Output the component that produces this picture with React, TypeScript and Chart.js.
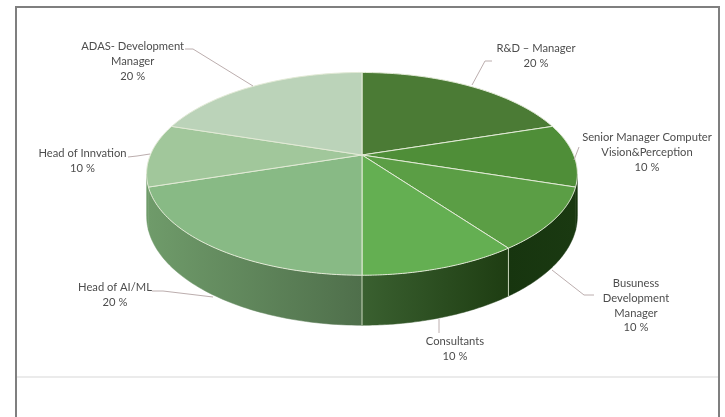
import React, { useEffect, useRef } from "react";
import { Chart, registerables } from "chart.js";

Chart.register(...registerables);

const categories = [
  "R&D – Manager",
  "Senior Manager Computer Vision&Perception",
  "Busuness Development Manager",
  "Consultants",
  "Head of AI/ML",
  "Head of Innvation",
  "ADAS- Development Manager",
];
const shares = [20, 10, 10, 10, 20, 10, 20];
const topColors = ["#4b7b35", "#4f8e38", "#5b9e45", "#64af52", "#88ba85", "#a1c79b", "#bbd3b9"];
const wallFrom = ["#17350f", "#17350f", "#17350f", "#3a6030", "#6f9b6a", "#6f9b6a", "#6f9b6a"];
const wallTo = ["#17350f", "#17350f", "#1a3911", "#1e3d12", "#4f6f4b", "#6f9b6a", "#6f9b6a"];

// Label placement: line list, centre x, first line's middle y, leader polyline.
type Callout = { lines: string[]; x: number; y: number; leader: [number, number][] };
const callouts: Callout[] = [
  { lines: ["R&D – Manager", "20 %"], x: 536, y: 48, leader: [[472, 85], [485, 61], [492, 61]] },
  { lines: ["Senior Manager Computer", "Vision&Perception", "10 %"], x: 647, y: 137, leader: [[579, 147], [574, 160]] },
  { lines: ["Busuness", "Development", "Manager", "10 %"], x: 636, y: 283, leader: [[552, 270], [584, 295], [594, 295]] },
  { lines: ["Consultants", "10 %"], x: 455, y: 341, leader: [[439, 319], [439, 333]] },
  { lines: ["Head of AI/ML", "20 %"], x: 115, y: 287, leader: [[152, 291], [163, 291], [213, 297]] },
  { lines: ["Head of Innvation", "10 %"], x: 82.5, y: 153, leader: [[128, 157], [137, 156], [150, 154]] },
  { lines: ["ADAS- Development", "Manager", "20 %"], x: 132.7, y: 46, leader: [[185, 49], [193, 49], [253, 86]] },
];

// Perspective of the tilted disc.
const STRETCH_X = 213 / 155;
const SQUASH_Y = 98.5 / 155;
const PERSPECTIVE = -0.186;
const DEPTH = 40.7;
const WALL_START = Math.asin(0.186);
const WALL_END = Math.PI - WALL_START;

const pie3d = {
  id: "pie3d",
  beforeDatasetsDraw(chart: any) {
    const { ctx } = chart;
    const arcs = chart.getDatasetMeta(0).data as any[];
    const project = (arc: any, t: number, drop: number) => {
      const den = 1 + PERSPECTIVE * Math.sin(t);
      return [
        arc.x + (arc.outerRadius * STRETCH_X * Math.cos(t)) / den,
        arc.y + (arc.outerRadius * SQUASH_Y * Math.sin(t) + drop) / den,
      ];
    };
    const trace = (arc: any, from: number, to: number, drop: number) => {
      const steps = 64;
      for (let i = 0; i <= steps; i++) {
        const [x, y] = project(arc, from + ((to - from) * i) / steps, drop);
        ctx.lineTo(x, y);
      }
    };
    ctx.save();
    ctx.lineJoin = "round";

    // Side wall, only where it faces the viewer.
    arcs.forEach((arc, i) => {
      const from = Math.max(arc.startAngle, WALL_START);
      const to = Math.min(arc.endAngle, WALL_END);
      if (to <= from) return;
      const [x0] = project(arc, from, 0);
      const [x1] = project(arc, to, 0);
      const g = ctx.createLinearGradient(x0, 0, x1, 0);
      g.addColorStop(0, wallTo[i]);
      g.addColorStop(1, wallFrom[i]);
      ctx.beginPath();
      trace(arc, from, to, 0);
      trace(arc, to, from, DEPTH);
      ctx.closePath();
      ctx.fillStyle = g;
      ctx.fill();
      ctx.strokeStyle = g;
      ctx.lineWidth = 0.5;
      ctx.stroke();
    });

    // Seams between the front wall segments.
    arcs.forEach((arc) => {
      const t = arc.endAngle;
      if (t <= WALL_START || t >= WALL_END || Math.abs(Math.cos(t)) > 0.9) return;
      const [x0, y0] = project(arc, t, 0);
      const [x1, y1] = project(arc, t, DEPTH);
      ctx.beginPath();
      ctx.moveTo(x0, y0);
      ctx.lineTo(x1, y1);
      ctx.strokeStyle = "#c9d6bb";
      ctx.lineWidth = 1;
      ctx.stroke();
    });

    // Top face.
    arcs.forEach((arc, i) => {
      ctx.beginPath();
      ctx.moveTo(arc.x, arc.y);
      trace(arc, arc.startAngle, arc.endAngle, 0);
      ctx.closePath();
      ctx.fillStyle = topColors[i];
      ctx.fill();
      ctx.strokeStyle = "#e2ead6";
      ctx.lineWidth = 1;
      ctx.stroke();
    });
    ctx.restore();
    return false;
  },
};

const frame = {
  id: "frame",
  beforeDraw(chart: any) {
    const { ctx, width, height } = chart;
    ctx.save();
    ctx.fillStyle = "#ffffff";
    ctx.fillRect(0, 0, width, height);
    ctx.strokeStyle = "#e4e4e4";
    ctx.lineWidth = 1.5;
    ctx.beginPath();
    ctx.moveTo(17, 377);
    ctx.lineTo(718, 377);
    ctx.stroke();
    ctx.strokeStyle = "#7f7f7f";
    ctx.lineWidth = 2;
    ctx.beginPath();
    ctx.moveTo(16, height);
    ctx.lineTo(16, 7);
    ctx.lineTo(719, 7);
    ctx.lineTo(719, height);
    ctx.stroke();
    ctx.restore();
  },
};

const labels = {
  id: "callouts",
  afterDraw(chart: any) {
    const { ctx } = chart;
    ctx.save();
    ctx.strokeStyle = "#bcaeae";
    ctx.lineWidth = 1;
    ctx.fillStyle = "#4d4d4d";
    ctx.font = "11.2px Lato";
    ctx.textAlign = "center";
    ctx.textBaseline = "middle";
    callouts.forEach((c) => {
      ctx.beginPath();
      c.leader.forEach(([x, y], i) => (i ? ctx.lineTo(x, y) : ctx.moveTo(x, y)));
      ctx.stroke();
      c.lines.forEach((line, i) => ctx.fillText(line, c.x, c.y + 0.5 + i * 14.7));
    });
    ctx.restore();
  },
};

export default function App() {
  const ref = useRef<HTMLCanvasElement>(null);
  useEffect(() => {
    const chart = new Chart(ref.current!, {
      type: "pie",
      data: {
        labels: categories,
        datasets: [{ data: shares, backgroundColor: topColors }],
      },
      options: {
        responsive: false,
        animation: false,
        devicePixelRatio: 1,
        layout: { padding: { top: 0, left: 0, right: 1, bottom: 107 } },
        plugins: { legend: { display: false }, tooltip: { enabled: false } },
      },
      plugins: [frame, pie3d, labels],
    });
    return () => chart.destroy();
  }, []);
  return (
    <canvas
      ref={ref}
      width={725}
      height={417}
      style={{ position: "absolute", left: 0, top: 0, filter: "blur(0.5px)" }}
    />
  );
}
